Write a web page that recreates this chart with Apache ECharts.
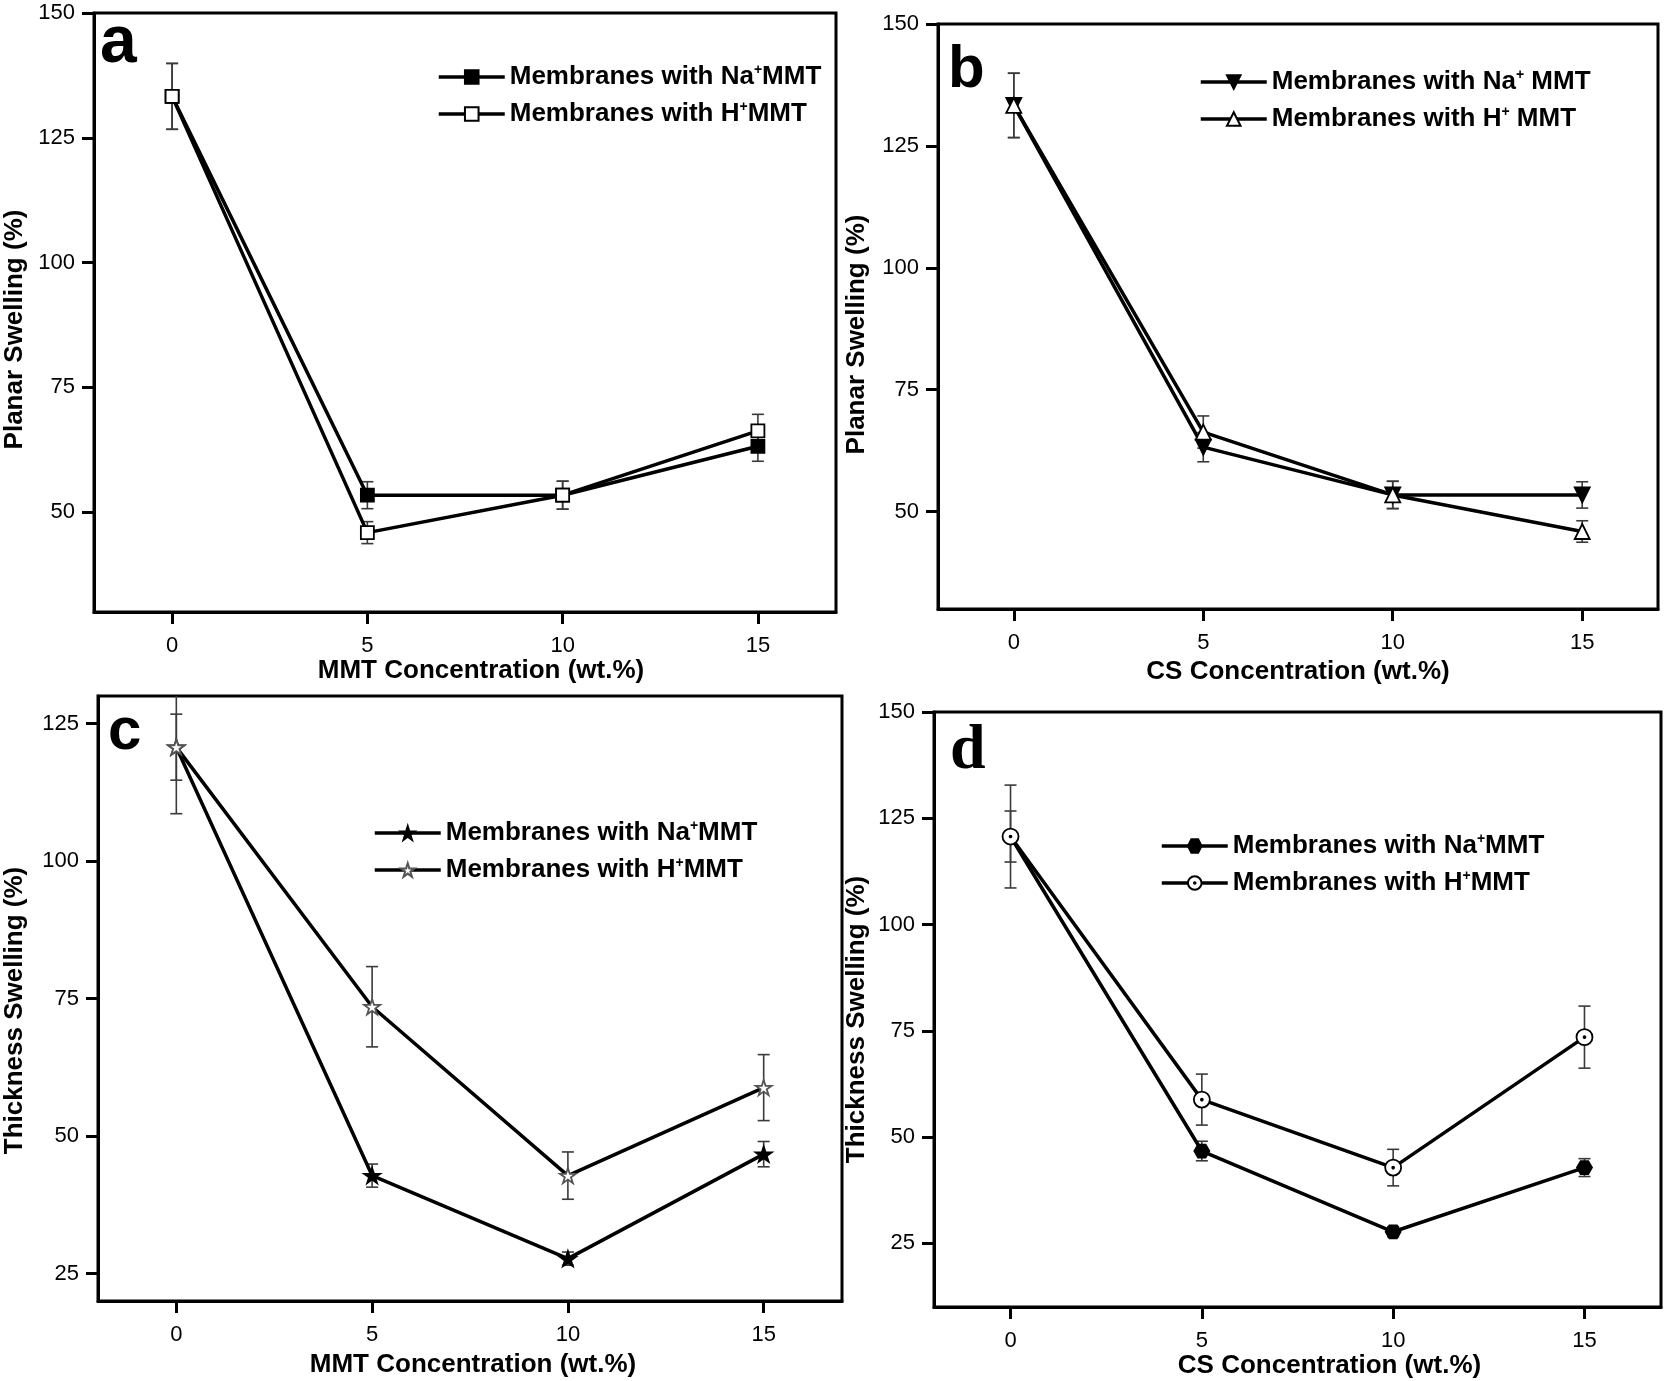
<!DOCTYPE html>
<html>
<head>
<meta charset="utf-8">
<script src="https://cdn.jsdelivr.net/npm/echarts@6/dist/echarts.min.js"></script>
<style>
  html, body { margin: 0; padding: 0; background: #fff; }
  #main { width: 1671px; height: 1381px; }
</style>
</head>
<body>
<div id="main"></div>
<script>
// concentration (wt.%) on the x axis of every panel
var conc = [0, 5, 10, 15];
var xTicks = [0, 5, 10, 15];

// a: planar swelling vs MMT concentration
var aNa = [133.3, 53.4, 53.4, 63.2];
var aNaErr = [6.6, 2.7, 2.8, 3.0];
var aH = [133.3, 45.9, 53.4, 66.3];
var aHErr = [6.6, 2.2, 2.8, 3.3];

// b: planar swelling vs CS concentration
var bNa = [133.3, 63.2, 53.4, 53.4];
var bNaErr = [6.6, 3.0, 2.8, 2.7];
var bH = [133.3, 66.3, 53.4, 45.9];
var bHErr = [6.6, 3.3, 2.8, 2.2];

// c: thickness swelling vs MMT concentration
var cNa = [120.7, 42.8, 27.7, 46.7];
var cNaErr = [6.0, 2.1, 1.2, 2.3];
var cH = [120.7, 73.5, 42.8, 58.8];
var cHErr = [12.1, 7.3, 4.3, 6.0];

// d: thickness swelling vs CS concentration
var dNa = [120.7, 46.7, 27.7, 42.8];
var dNaErr = [6.0, 2.3, 1.2, 2.1];
var dH = [120.7, 58.8, 42.8, 73.5];
var dHErr = [12.1, 6.0, 4.3, 7.3];

var planarTicks = [50, 75, 100, 125, 150];
var thickCTicks = [25, 50, 75, 100, 125];
var thickDTicks = [25, 50, 75, 100, 125, 150];

var FONT = '"Liberation Sans", Arial, Helvetica, sans-serif';

var LABELS = {
  aNa: '{t|Membranes with Na}{s|+}{t|MMT}',
  aH: '{t|Membranes with H}{s|+}{t|MMT}',
  bNa: '{t|Membranes with Na}{s|+}{t| MMT}',
  bH: '{t|Membranes with H}{s|+}{t| MMT}',
  cNa: '{t|Membranes with Na}{s|+}{t|MMT}',
  cH: '{t|Membranes with H}{s|+}{t|MMT}',
  dNa: '{t|Membranes with Na}{s|+}{t|MMT}',
  dH: '{t|Membranes with H}{s|+}{t|MMT}'
};

var STAR = 'path://M50,2 L61.8,38.2 L99.9,38.2 L69.1,60.6 L80.9,96.8 L50,74.4 L19.1,96.8 L30.9,60.6 L0.1,38.2 L38.2,38.2 Z';
var HEX = 'path://M25,0 L75,0 L100,43.3 L75,86.6 L25,86.6 L0,43.3 Z';
var DOTCIRCLE = 'path://M12,0 A12,12 0 1 1 11.99,0 Z M12,10.6 A1.4,1.4 0 1 1 11.99,10.6 Z';

function pts(vals) {
  return conc.map(function (x, i) { return [x, vals[i]]; });
}

function errPts(vals, errs) {
  return conc.map(function (x, i) { return [x, vals[i] - errs[i], vals[i] + errs[i]]; });
}

function renderErr(params, api) {
  var x = api.value(0);
  var lo = api.coord([x, api.value(1)]);
  var hi = api.coord([x, api.value(2)]);
  var w = 6;
  var st = { stroke: '#3a3a3a', lineWidth: 1.6 };
  return {
    type: 'group',
    children: [
      { type: 'line', shape: { x1: lo[0], y1: lo[1], x2: hi[0], y2: hi[1] }, style: st },
      { type: 'line', shape: { x1: lo[0] - w, y1: lo[1], x2: lo[0] + w, y2: lo[1] }, style: st },
      { type: 'line', shape: { x1: hi[0] - w, y1: hi[1], x2: hi[0] + w, y2: hi[1] }, style: st }
    ]
  };
}

function errSeries(idx, vals, errs) {
  return {
    type: 'custom',
    xAxisIndex: idx,
    yAxisIndex: idx,
    renderItem: renderErr,
    encode: { x: 0, y: [1, 2] },
    data: errPts(vals, errs),
    clip: true,
    z: 1,
    silent: true
  };
}

function lineSeries(name, idx, vals, symbol, size, fill, border, rotate) {
  return {
    type: 'line',
    name: name,
    xAxisIndex: idx,
    yAxisIndex: idx,
    data: pts(vals),
    symbol: symbol,
    symbolSize: size,
    symbolRotate: rotate || 0,
    symbolKeepAspect: true,
    showAllSymbol: true,
    lineStyle: { color: '#000', width: 3.5 },
    itemStyle: { color: fill, borderColor: border, borderWidth: 1.8, opacity: 1 },
    z: 3
  };
}

// grids in pixels, matched to the four boxed panels
var grids = [
  { left: 94, top: 13, width: 742, height: 599 },
  { left: 938, top: 24, width: 720, height: 585 },
  { left: 98, top: 696, width: 744, height: 605 },
  { left: 934, top: 712, width: 727, height: 595 }
];

var xNames = ['MMT Concentration (wt.%)', 'CS Concentration (wt.%)', 'MMT Concentration (wt.%)', 'CS Concentration (wt.%)'];
var xGaps = [45, 50, 51, 43];
var xShift = [16, 0, 3, 32];
var yNames = ['Planar Swelling (%)', 'Planar Swelling (%)', 'Thickness Swelling (%)', 'Thickness Swelling (%)'];
var yGaps = [66, 68, 70, 64];
var yShift = [17, 18, 12, 10];
var yMin = [30, 30, 20, 10];
var yMax = [150, 150, 130, 150];
var yTicks = [planarTicks, planarTicks, thickCTicks, thickDTicks];

var chart = echarts.init(document.getElementById('main'));

var option = {
  animation: false,
  backgroundColor: '#fff',
  grid: grids.map(function (g) {
    return Object.assign({ show: true, borderColor: '#000', borderWidth: 3, backgroundColor: 'transparent' }, g);
  }),
  xAxis: grids.map(function (g, i) {
    return {
      type: 'value',
      gridIndex: i,
      min: -2,
      max: 17,
      name: xNames[i],
      nameLocation: 'middle',
      nameGap: xGaps[i],
      nameTextStyle: {
        fontFamily: FONT, fontSize: 26, fontWeight: 'bold', color: '#000',
        padding: [0, 0, 0, xShift[i] * 2]
      },
      axisLine: { show: true, onZero: false, lineStyle: { color: '#000', width: 3 } },
      axisTick: { show: true, inside: false, length: 12, lineStyle: { color: '#000', width: 3 }, customValues: xTicks },
      axisLabel: { fontFamily: FONT, fontSize: 22, color: '#000', margin: 23, customValues: xTicks },
      splitLine: { show: false }
    };
  }),
  yAxis: grids.map(function (g, i) {
    return {
      type: 'value',
      gridIndex: i,
      min: yMin[i],
      max: yMax[i],
      name: yNames[i],
      nameLocation: 'middle',
      nameGap: yGaps[i],
      nameTextStyle: {
        fontFamily: FONT, fontSize: 26, fontWeight: 'bold', color: '#000',
        padding: [0, yShift[i] * 2, 0, 0]
      },
      axisLine: { show: true, onZero: false, lineStyle: { color: '#000', width: 3 } },
      axisTick: { show: true, inside: false, length: 12, lineStyle: { color: '#000', width: 3 }, customValues: yTicks[i] },
      axisLabel: { fontFamily: FONT, fontSize: 22, color: '#000', margin: 19, customValues: yTicks[i] },
      splitLine: { show: false }
    };
  }),
  legend: [
    { data: ['aNa', 'aH'], left: 432, top: 58 },
    { data: ['bNa', 'bH'], left: 1194, top: 63 },
    { data: ['cNa', 'cH'], left: 368, top: 814 },
    { data: ['dNa', 'dH'], left: 1155, top: 827 }
  ].map(function (l) {
    return Object.assign({
      orient: 'vertical',
      itemWidth: 66,
      itemHeight: 17,
      itemGap: 10,
      selectedMode: false,
      lineStyle: { width: 3.5, color: '#000' },
      formatter: function (name) { return LABELS[name]; },
      textStyle: {
        rich: {
          t: { fontFamily: FONT, fontSize: 26, fontWeight: 'bold', color: '#000', lineHeight: 28 },
          s: { fontFamily: FONT, fontSize: 14, fontWeight: 'bold', color: '#000', lineHeight: 28, verticalAlign: 'top' }
        }
      }
    }, l);
  }),
  graphic: [
    { type: 'text', x: 100, y: 44, style: { text: 'a', font: 'bold 66px ' + FONT, fill: '#000', textVerticalAlign: 'middle' }, z: 10 },
    { type: 'text', x: 948, y: 70, style: { text: 'b', font: 'bold 60px ' + FONT, fill: '#000', textVerticalAlign: 'middle' }, z: 10 },
    { type: 'text', x: 108, y: 732, style: { text: 'c', font: 'bold 60px ' + FONT, fill: '#000', textVerticalAlign: 'middle' }, z: 10 },
    { type: 'text', x: 950, y: 751, style: { text: 'd', font: 'bold 64px "Liberation Serif", "Times New Roman", serif', fill: '#000', textVerticalAlign: 'middle' }, z: 10 }
  ],
  series: [
    errSeries(0, aNa, aNaErr),
    errSeries(0, aH, aHErr),
    lineSeries('aNa', 0, aNa, 'rect', 13, '#000', '#000'),
    lineSeries('aH', 0, aH, 'rect', 13, '#fff', '#000'),

    errSeries(1, bNa, bNaErr),
    errSeries(1, bH, bHErr),
    lineSeries('bNa', 1, bNa, 'triangle', 15, '#000', '#000', 180),
    lineSeries('bH', 1, bH, 'triangle', 15, '#fff', '#000'),

    errSeries(2, cNa, cNaErr),
    errSeries(2, cH, cHErr),
    lineSeries('cNa', 2, cNa, STAR, 16, '#000', '#000'),
    lineSeries('cH', 2, cH, STAR, 16, '#fff', '#555'),

    errSeries(3, dNa, dNaErr),
    errSeries(3, dH, dHErr),
    lineSeries('dNa', 3, dNa, HEX, 15, '#000', '#000'),
    lineSeries('dH', 3, dH, DOTCIRCLE, 16, '#fff', '#000')
  ]
};

chart.setOption(option);
</script>
</body>
</html>
